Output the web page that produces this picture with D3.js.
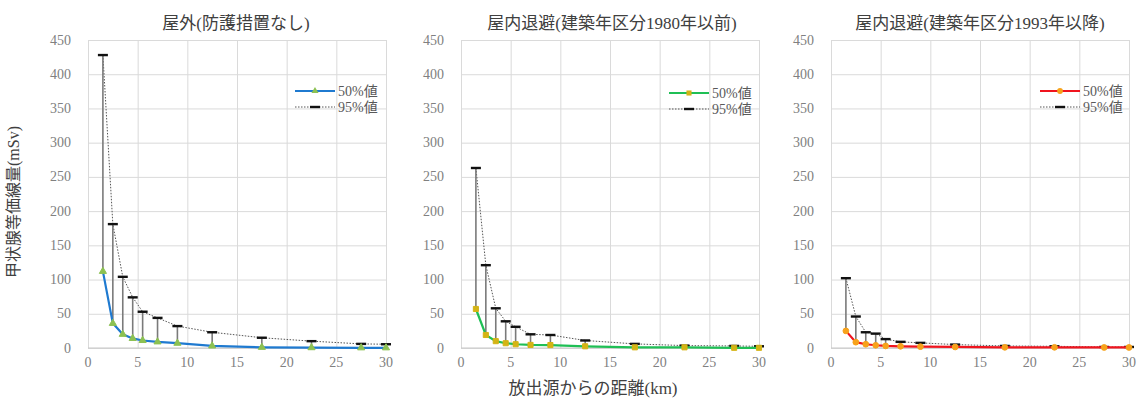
<!DOCTYPE html>
<html>
<head>
<meta charset="utf-8">
<script src="https://cdn.jsdelivr.net/npm/d3@7"></script>
<style>
  body { margin: 0; background: #fff; }
  svg text { font-family: 'Liberation Serif', 'DejaVu Serif', 'Noto Serif', 'Times New Roman', Tinos, 'Noto Sans CJK JP', serif; }
</style>
</head>
<body>
<div id="chart"></div>
<script>
// distances (km)
const distances = [1.5, 2.5, 3.5, 4.5, 5.5, 7, 9, 12.5, 17.5, 22.5, 27.5, 30];

// outdoor, no protection
const outdoor50 = [112, 36, 20, 14, 11, 9, 7, 3, 1, 0.5, 0.3, 0.3];
const outdoor95 = [428, 181, 104, 74, 53, 44, 32, 23, 15, 10, 6, 5.5];

// sheltering, built before 1980
const pre1980_50 = [57, 19, 10, 7, 5.5, 4.5, 4.3, 2.5, 1, 1, 0.3, 0.3];
const pre1980_95 = [263, 121, 58, 39, 31, 20, 19, 11, 6, 3.5, 3, 2.5];

// sheltering, built after 1993
const post1993_50 = [25, 8.5, 5.5, 4, 3, 2.5, 2, 1.5, 1, 1, 0.8, 0.8];
const post1993_95 = [102, 46, 23, 21, 13, 9, 7.5, 5, 3, 2.5, 1.5, 1.5];

const titles = ['屋外(防護措置なし)', '屋内退避(建築年区分1980年以前)', '屋内退避(建築年区分1993年以降)'];
const legendLabels = ['50%値', '95%値'];
const xTicks = [0, 5, 10, 15, 20, 25, 30];
const yTicks = [0, 50, 100, 150, 200, 250, 300, 350, 400, 450];

const width = 1139;
const height = 399;

const svg = d3.select('#chart')
  .append('svg')
  .attr('width', width)
  .attr('height', height);

// panel set-up
const panels = [
  { left: 88, right: 386, median: outdoor50, p95: outdoor95, line: '#1f7ad0', marker: '#8cc152', shape: d3.symbolTriangle, titleX: 236, legendX: 295 },
  { left: 461, right: 759, median: pre1980_50, p95: pre1980_95, line: '#1fbf55', marker: '#d4b415', shape: d3.symbolSquare, titleX: 612, legendX: 669 },
  { left: 831, right: 1129, median: post1993_50, p95: post1993_95, line: '#f0141e', marker: '#f7a21b', shape: d3.symbolCircle, titleX: 980, legendX: 1040 }
];
const plotTop = 40;
const plotBottom = 348;

panels.forEach((p, i) => {
  const x = d3.scaleLinear().domain([0, 30]).range([p.left, p.right]);
  const y = d3.scaleLinear().domain([0, 450]).range([plotBottom, plotTop]);
  const g = svg.append('g');

  // gridlines
  g.append('g')
    .attr('transform', `translate(0, ${plotBottom})`)
    .call(d3.axisBottom(x).tickValues(xTicks).tickSize(-(plotBottom - plotTop)).tickFormat(''))
    .call((s) => s.select('.domain').remove())
    .selectAll('line').attr('stroke', '#dadada');
  g.append('g')
    .attr('transform', `translate(${p.left}, 0)`)
    .call(d3.axisLeft(y).tickValues(yTicks).tickSize(-(p.right - p.left)).tickFormat(''))
    .call((s) => s.select('.domain').remove())
    .selectAll('line').attr('stroke', '#dadada');

  // axis line
  g.append('line')
    .attr('x1', p.left).attr('x2', p.right)
    .attr('y1', plotBottom).attr('y2', plotBottom)
    .attr('stroke', '#c8c8c8').attr('stroke-width', 1.2);

  // tick labels
  g.selectAll('.xl')
    .data(xTicks)
    .join('text')
    .attr('x', (d) => x(d))
    .attr('y', plotBottom + 19)
    .attr('text-anchor', 'middle')
    .attr('font-size', 14)
    .attr('fill', '#808080')
    .text((d) => d);
  g.selectAll('.yl')
    .data(yTicks)
    .join('text')
    .attr('x', p.left - 17)
    .attr('y', (d) => y(d) + 4.5)
    .attr('text-anchor', 'end')
    .attr('font-size', 14)
    .attr('fill', '#808080')
    .text((d) => d);

  // title
  g.append('text')
    .attr('x', p.titleX)
    .attr('y', 29)
    .attr('text-anchor', 'middle')
    .attr('font-size', 17)
    .attr('fill', '#404040')
    .text(titles[i]);

  const pts = distances.map((d, k) => ({ d, m: p.median[k], h: p.p95[k] }));

  // 95% dotted line
  g.append('path')
    .datum(pts)
    .attr('fill', 'none')
    .attr('stroke', '#555')
    .attr('stroke-width', 1)
    .attr('stroke-dasharray', '1.5,1.5')
    .attr('d', d3.line().x((d) => x(d.d)).y((d) => y(d.h)));

  // error bars
  g.selectAll('.err')
    .data(pts)
    .join('line')
    .attr('x1', (d) => x(d.d)).attr('x2', (d) => x(d.d))
    .attr('y1', (d) => y(d.m)).attr('y2', (d) => y(d.h))
    .attr('stroke', '#7a7a7a')
    .attr('stroke-width', 1.6);

  // 95% caps
  g.selectAll('.cap')
    .data(pts)
    .join('rect')
    .attr('x', (d) => x(d.d) - 5)
    .attr('y', (d) => y(d.h) - 1.2)
    .attr('width', 10)
    .attr('height', 2.4)
    .attr('fill', '#111');

  // 50% line
  g.append('path')
    .datum(pts)
    .attr('fill', 'none')
    .attr('stroke', p.line)
    .attr('stroke-width', 2.2)
    .attr('d', d3.line().x((d) => x(d.d)).y((d) => y(d.m)));

  const sym = d3.symbol().type(p.shape).size(p.shape === d3.symbolTriangle ? 22 : 26);
  g.selectAll('.mk')
    .data(pts)
    .join('path')
    .attr('transform', (d) => `translate(${x(d.d)}, ${y(d.m)})`)
    .attr('d', sym)
    .attr('fill', p.marker)
    .attr('stroke', p.marker);

  // legend
  const ly = i === 1 ? 93 : 91;
  const lg = g.append('g');
  lg.append('line')
    .attr('x1', p.legendX).attr('x2', p.legendX + 40)
    .attr('y1', ly).attr('y2', ly)
    .attr('stroke', p.line).attr('stroke-width', 2.2);
  lg.append('path')
    .attr('transform', `translate(${p.legendX + 20}, ${ly})`)
    .attr('d', sym)
    .attr('fill', p.marker);
  lg.append('line')
    .attr('x1', p.legendX).attr('x2', p.legendX + 40)
    .attr('y1', ly + 16).attr('y2', ly + 16)
    .attr('stroke', '#555').attr('stroke-dasharray', '1.5,1.5');
  lg.append('rect')
    .attr('x', p.legendX + 15).attr('y', ly + 14.8)
    .attr('width', 10).attr('height', 2.4)
    .attr('fill', '#111');
  lg.selectAll('text')
    .data(legendLabels)
    .join('text')
    .attr('x', p.legendX + 43)
    .attr('y', (d, k) => ly + 5 + k * 16)
    .attr('font-size', 14)
    .attr('fill', '#595959')
    .text((d) => d);
});

// axis titles
svg.append('text')
  .attr('transform', 'translate(19, 202) rotate(-90)')
  .attr('text-anchor', 'middle')
  .attr('font-size', 16)
  .attr('fill', '#404040')
  .text('甲状腺等価線量(mSv)');

svg.append('text')
  .attr('x', 593)
  .attr('y', 394)
  .attr('text-anchor', 'middle')
  .attr('font-size', 17)
  .attr('fill', '#404040')
  .text('放出源からの距離(km)');
</script>
</body>
</html>
